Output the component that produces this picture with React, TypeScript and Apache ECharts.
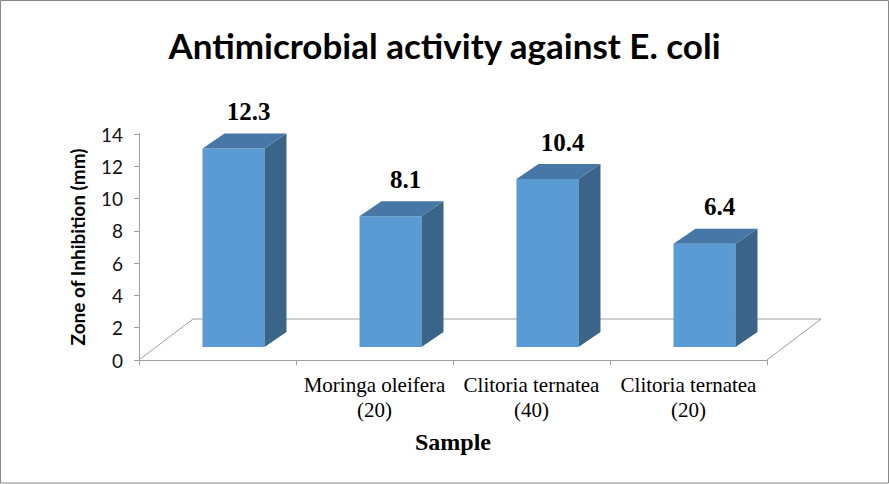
import React, { useEffect, useRef } from "react";
import * as echarts from "echarts";

const categories = ["", "Moringa oleifera\n(20)", "Clitoria ternatea\n(40)", "Clitoria ternatea\n(20)"];
const values = [12.3, 8.1, 10.4, 6.4];
const yTicks = { min: 0, max: 14, interval: 2 };
const titleText = "Antimicrobial activity against E. coli";
const yAxisName = "Zone of Inhibition (mm)";
const xAxisName = "Sample";

const FRONT = "#5B9BD5";
const TOP = "#4677A6";
const SIDE = "#3B6489";
const AXIS = "#A0A0A0";

export default function App() {
  const ref = useRef<HTMLDivElement>(null);
  useEffect(() => {
    document.body.style.margin = "0";
    if (!ref.current) return;
    const chart = echarts.init(ref.current, null, { renderer: "svg" });
    const floorDX = 54;
    const floorDY = -41;
    const barOX = 16;
    const barOY = -13;
    const barDX = 22;
    const barDY = -15;
    chart.setOption({
      animation: false,
      backgroundColor: "#fff",
      title: {
        text: titleText,
        left: "center",
        top: 22,
        textStyle: { fontFamily: "Lato", fontWeight: "bold", fontSize: 35, color: "#000" },
      },
      grid: { left: 139, right: 122, top: 134, bottom: 124 },
      xAxis: {
        type: "category",
        data: categories,
        name: xAxisName,
        nameLocation: "middle",
        nameGap: 70,
        nameTextStyle: { fontFamily: "Liberation Serif", fontWeight: "bold", fontSize: 24, color: "#000" },
        axisLine: { show: true, lineStyle: { color: AXIS, width: 1 } },
        axisTick: { show: true, length: 5, alignWithLabel: false, lineStyle: { color: AXIS } },
        axisLabel: { fontFamily: "Liberation Serif", fontSize: 21, color: "#000", margin: 12, lineHeight: 25, interval: 0 },
        splitLine: { show: false },
      },
      yAxis: {
        type: "value",
        min: yTicks.min,
        max: yTicks.max,
        interval: yTicks.interval,
        name: yAxisName,
        nameLocation: "middle",
        nameRotate: 90,
        nameGap: 52,
        nameTextStyle: { fontFamily: "Lato", fontWeight: "bold", fontSize: 19, color: "#000" },
        axisLine: { show: true, lineStyle: { color: AXIS, width: 1 } },
        axisTick: { show: true, length: 5, lineStyle: { color: AXIS } },
        axisLabel: { fontFamily: "Lato", fontSize: 19, color: "#111", margin: 16 },
        splitLine: { show: false },
      },
      graphic: [
        {
          type: "rect",
          shape: { x: 0.5, y: 0.5, width: 888, height: 482.5 },
          style: { fill: "none", stroke: "#878787", lineWidth: 1 },
          silent: true,
          z: 100,
        },
      ],
      series: [
        {
          type: "custom",
          z: 1,
          data: [[0, 0]],
          renderItem: (params: any, api: any) => {
            const cs = params.coordSys;
            const l = cs.x;
            const r = cs.x + cs.width;
            const b = cs.y + cs.height;
            return {
              type: "polyline",
              shape: {
                points: [
                  [l, b],
                  [l + floorDX, b + floorDY],
                  [r + floorDX, b + floorDY],
                  [r, b],
                ],
              },
              style: { stroke: AXIS, lineWidth: 1, fill: "none" },
            };
          },
        },
        {
          type: "custom",
          z: 2,
          data: values.map((v, i) => [i, v]),
          renderItem: (params: any, api: any) => {
            const i = api.value(0);
            const v = api.value(1);
            const base = api.coord([i, 0]);
            const top = api.coord([i, v]);
            const band = api.size([1, 0])[0];
            const w = band * 0.395;
            const x0 = base[0] - w / 2 + barOX;
            const x1 = x0 + w;
            const yb = base[1] + barOY;
            const yt = top[1] + barOY;
            return {
              type: "group",
              children: [
                {
                  type: "polygon",
                  shape: { points: [[x0, yt], [x1, yt], [x1, yb], [x0, yb]] },
                  style: { fill: FRONT },
                },
                {
                  type: "polygon",
                  shape: { points: [[x1, yt], [x1 + barDX, yt + barDY], [x1 + barDX, yb + barDY], [x1, yb]] },
                  style: { fill: SIDE },
                },
                {
                  type: "polygon",
                  shape: { points: [[x0, yt], [x0 + barDX, yt + barDY], [x1 + barDX, yt + barDY], [x1, yt]] },
                  style: { fill: TOP },
                },
                {
                  type: "text",
                  style: {
                    text: String(v),
                    x: (x0 + x1) / 2 + barDX / 2 + 4,
                    y: yt + barDY - 22,
                    align: "center",
                    verticalAlign: "middle",
                    fontFamily: "Liberation Serif",
                    fontWeight: "bold",
                    fontSize: 25,
                    fill: "#000",
                  },
                },
              ],
            };
          },
        },
      ],
    });
    return () => chart.dispose();
  }, []);
  return <div ref={ref} style={{ width: 889, height: 484 }} />;
}
